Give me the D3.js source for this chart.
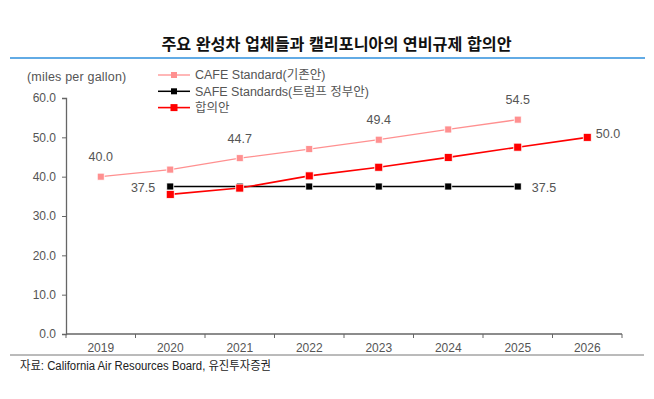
<!DOCTYPE html>
<html>
<head>
<meta charset="utf-8">
<script src="https://cdn.jsdelivr.net/npm/d3@7"></script>
<style>
  body { margin: 0; background: #fff; }
  text { font-family: "Liberation Sans", Arial, "Noto Sans CJK KR", sans-serif; }
</style>
</head>
<body>
<svg width="654" height="399"></svg>
<script>
// data
const years = ["2019", "2020", "2021", "2022", "2023", "2024", "2025", "2026"];
const cafe = [40.0, 41.8, 44.7, 47.0, 49.4, 52.0, 54.5, null];
const safe = [null, 37.5, 37.5, 37.5, 37.5, 37.5, 37.5, null];
const deal = [null, 35.5, 37.1, 40.2, 42.4, 44.9, 47.5, 50.0];
const yTicks = [0, 10, 20, 30, 40, 50, 60];

let svg = d3.select("svg");
const krFont = "'Noto Sans CJK KR', 'Liberation Sans', sans-serif";

// title and rules
svg.append("text")
    .attr("x", 336.5).attr("y", 50)
    .attr("text-anchor", "middle")
    .attr("font-family", krFont)
    .attr("font-weight", "bold")
    .attr("font-size", 16.2)
    .attr("fill", "#111")
    .text("주요 완성차 업체들과 캘리포니아의 연비규제  합의안");

svg.append("line")
    .attr("x1", 10).attr("x2", 645).attr("y1", 58).attr("y2", 58)
    .attr("stroke", "#2e8fdc").attr("stroke-width", 1.5);

svg.append("line")
    .attr("x1", 10).attr("x2", 644).attr("y1", 355).attr("y2", 355)
    .attr("stroke", "#777").attr("stroke-width", 1);

svg.append("text")
    .attr("x", 20).attr("y", 370)
    .attr("font-family", krFont)
    .attr("font-size", 12)
    .attr("fill", "#222")
    .attr("textLength", 251)
    .attr("lengthAdjust", "spacingAndGlyphs")
    .text("자료: California Air Resources Board, 유진투자증권");

// scales
let x = d3.scaleBand().domain(years).range([66, 622]);
let y = d3.scaleLinear().domain([0, 60]).range([334, 98]);
let cx = d => x(d) + x.bandwidth() / 2;

// axes
let yAxis = svg.append("g")
    .attr("transform", "translate(66,0)")
    .call(d3.axisLeft(y).tickValues(yTicks).tickFormat(d3.format(".1f")).tickSize(4).tickPadding(6));

let xAxis = svg.append("g")
    .attr("transform", "translate(0,334)")
    .call(d3.axisBottom(x).tickSize(0).tickPadding(9));

// x ticks at band boundaries
xAxis.selectAll(".bound")
    .data(years.map(d => x(d)).concat([x.range()[1]]))
    .enter().append("line")
    .attr("class", "bound")
    .attr("x1", d => d).attr("x2", d => d)
    .attr("y1", 0).attr("y2", 4)
    .attr("stroke", "#666");

[yAxis, xAxis].forEach(a => {
    a.select(".domain").attr("stroke", "#666").attr("stroke-width", 1.3);
    a.selectAll(".tick line").attr("stroke", "#666");
    a.selectAll("text")
        .attr("font-family", "'Liberation Sans', Arial, sans-serif")
        .attr("font-size", 12)
        .attr("fill", "#555");
});
xAxis.select(".domain").attr("d", "M66,0H622");

svg.append("text")
    .attr("x", 27).attr("y", 81)
    .attr("font-size", 12.5)
    .attr("letter-spacing", 0.2)
    .attr("fill", "#555")
    .text("(miles per gallon)");

// series
const series = [
    { name: "CAFE Standard(기존안)", values: cafe, color: "#ff9090", width: 1.3, size: 7, stroke: "#fff" },
    { name: "SAFE Standards(트럼프 정부안)", values: safe, color: "#000", width: 1.5, size: 7, stroke: "#fff" },
    { name: "합의안", values: deal, color: "#ff0000", width: 1.6, size: 8, stroke: "#fff" }
];

let line = d3.line()
    .defined(d => d.v != null)
    .x(d => cx(d.year))
    .y(d => y(d.v));

series.forEach(s => {
    let pts = years.map((yr, i) => ({ year: yr, v: s.values[i] }));
    let g = svg.append("g");
    g.append("path")
        .datum(pts)
        .attr("fill", "none")
        .attr("stroke", s.color)
        .attr("stroke-width", s.width)
        .attr("d", line);
    g.selectAll("rect")
        .data(pts.filter(d => d.v != null))
        .enter().append("rect")
        .attr("x", d => cx(d.year) - s.size / 2)
        .attr("y", d => y(d.v) - s.size / 2)
        .attr("width", s.size)
        .attr("height", s.size)
        .attr("fill", s.color)
        .attr("stroke", s.stroke)
        .attr("stroke-width", 0.8);
});

// data labels
const labels = [
    { year: "2019", v: cafe[0], dx: 0, dy: -20, anchor: "middle" },
    { year: "2021", v: cafe[2], dx: 0, dy: -20, anchor: "middle" },
    { year: "2023", v: cafe[4], dx: 0, dy: -20, anchor: "middle" },
    { year: "2025", v: cafe[6], dx: 0, dy: -20, anchor: "middle" },
    { year: "2020", v: safe[1], dx: -15, dy: 1, anchor: "end" },
    { year: "2025", v: safe[6], dx: 14, dy: 1, anchor: "start" },
    { year: "2026", v: deal[7], dx: 8.5, dy: -4, anchor: "start" }
];

svg.selectAll(".dlabel")
    .data(labels)
    .enter().append("text")
    .attr("class", "dlabel")
    .attr("x", d => cx(d.year) + d.dx)
    .attr("y", d => y(d.v) + d.dy)
    .attr("dy", "0.35em")
    .attr("text-anchor", d => d.anchor)
    .attr("font-size", 12.5)
    .attr("fill", "#555")
    .text(d => d3.format(".1f")(d.v));

// legend
let legend = svg.append("g")
    .selectAll("g")
    .data(series)
    .enter().append("g")
    .attr("transform", (d, i) => `translate(158,${75 + i * 16.3})`);

legend.append("line")
    .attr("x1", 0).attr("x2", 32)
    .attr("stroke", d => d.color)
    .attr("stroke-width", d => d.width);

legend.append("rect")
    .attr("x", d => 16 - d.size / 2 + 0.5)
    .attr("y", d => -d.size / 2 + 0.5)
    .attr("width", d => d.size - 1)
    .attr("height", d => d.size - 1)
    .attr("fill", d => d.color);

legend.append("text")
    .attr("x", 37).attr("dy", "0.35em")
    .attr("font-family", "'Liberation Sans', 'Noto Sans CJK KR', sans-serif")
    .attr("font-size", 12.5)
    .attr("fill", "#555")
    .text(d => d.name);
</script>
</body>
</html>
